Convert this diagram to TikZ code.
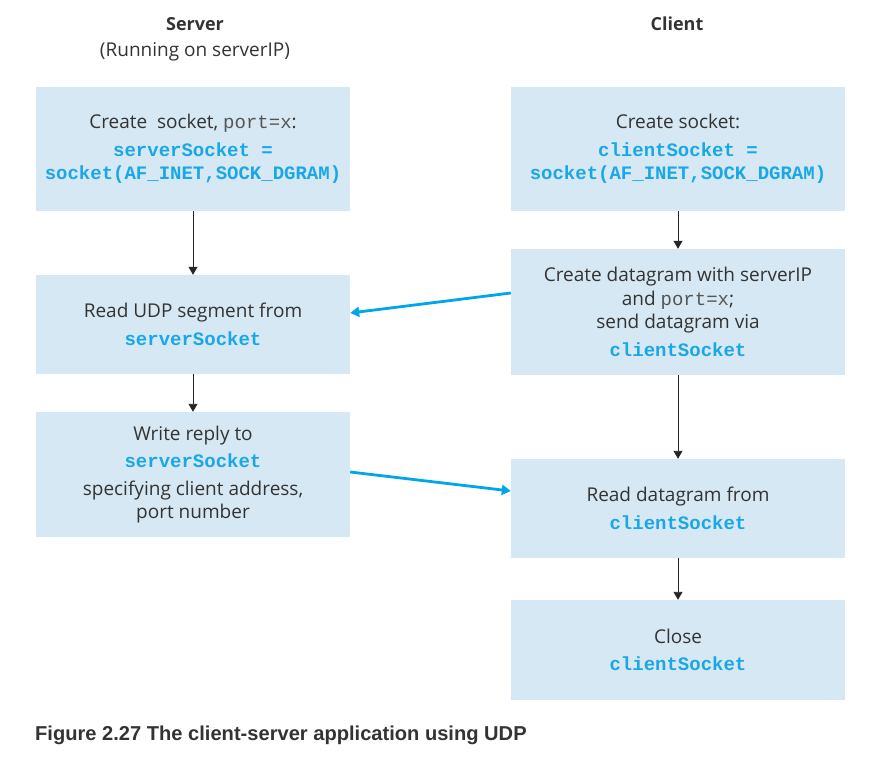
\documentclass[tikz,border=0pt]{standalone}
\usepackage{fontspec}
\setmainfont{Open Sans}
\newfontfamily\capfont{Liberation Sans}
\newfontfamily\codefont{Liberation Mono}
\usetikzlibrary{arrows.meta}
\definecolor{boxfill}{HTML}{D6E8F3}
\definecolor{codeblue}{HTML}{1AA7E6}
\definecolor{arrowblue}{HTML}{00A6EA}
\definecolor{txt}{HTML}{333333}
\definecolor{portgray}{HTML}{555555}
\newcommand{\cb}[1]{{\codefont\bfseries\color{codeblue}#1}}
\newcommand{\cg}[1]{{\codefont\color{portgray}#1}}
\begin{document}
\begin{tikzpicture}[x=1pt,y=-1pt,
  every node/.style={inner sep=0pt},
  stepbox/.style={fill=boxfill,draw=none,align=center,text=txt,
    font=\fontsize{19}{23.5}\selectfont},
  sbox/.style={stepbox,minimum width=314pt},
  cbox/.style={stepbox,minimum width=334pt},
  flow/.style={draw=black!85,line width=0.9pt,-{Triangle[length=8pt,width=9pt]}},
  msg/.style={draw=arrowblue,line width=2.8pt,-{Triangle[length=9pt,width=10pt]}},
  head/.style={text=txt,font=\fontsize{19}{23}\selectfont},
  bhead/.style={text=txt,font=\fontsize{18}{23}\selectfont\bfseries}]
\useasboundingbox (0,0) rectangle (877,775);
% headers
\node[bhead] (hs) at (195,24) {Server};
\node[head] (hr) at (195,52) {(Running on serverIP)};
\node[bhead] (hc) at (677,24) {Client};
% server boxes
\node[sbox,minimum height=124pt] (s1) at (193,149)
  {Create\ \ socket, \cg{port=x}:\\[4pt] \cb{serverSocket =}\\ \cb{socket(AF\_INET,SOCK\_DGRAM)}};
\node[sbox,minimum height=99pt] (s2) at (193,324.5)
  {Read UDP segment from\\[4pt] \cb{serverSocket}};
\node[sbox,minimum height=125pt] (s3) at (193,474.5)
  {Write reply to\\[4pt] \cb{serverSocket}\\[4pt] specifying client address,\\ port number};
% client boxes
\node[cbox,minimum height=124pt] (c1) at (678,149)
  {Create socket:\\[4pt] \cb{clientSocket =}\\ \cb{socket(AF\_INET,SOCK\_DGRAM)}};
\node[cbox,minimum height=126pt] (c2) at (678,312)
  {Create datagram with serverIP\\ and \cg{port=x};\\ send datagram via\\[4pt] \cb{clientSocket}};
\node[cbox,minimum height=99pt] (c3) at (678,508.5)
  {Read datagram from\\[4pt] \cb{clientSocket}};
\node[cbox,minimum height=100pt] (c4) at (678,650)
  {Close\\[4pt] \cb{clientSocket}};
% flow arrows
\draw[flow] (s1.south) -- (s2.north);
\draw[flow] (s2.south) -- (s3.north);
\draw[flow] (c1.south) -- (c2.north);
\draw[flow] (c2.south) -- (c3.north);
\draw[flow] (c3.south) -- (c4.north);
% message arrows
\draw[msg] ([yshift=19pt]c2.west) -- ([yshift=11.5pt]s2.east);
\draw[msg] ([yshift=2.5pt]s3.east) -- ([yshift=17.5pt]c3.west);
% caption
\node[anchor=west,text=txt,font=\capfont\bfseries\fontsize{20.1}{24}\selectfont] (cap) at (35,735)
  {Figure 2.27 The client-server application using UDP};
\end{tikzpicture}
\end{document}
